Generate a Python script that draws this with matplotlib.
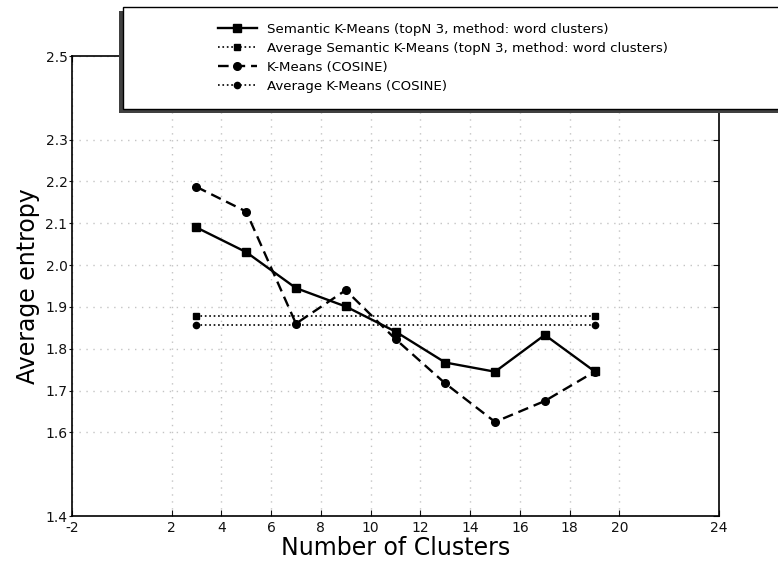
import matplotlib
matplotlib.use('Agg')
import matplotlib.pyplot as plt
from matplotlib.patches import Rectangle

plt.rcParams['axes.unicode_minus'] = False

clusters = [3, 5, 7, 9, 11, 13, 15, 17, 19]
semantic = [2.090, 2.031, 1.945, 1.901, 1.841, 1.767, 1.745, 1.833, 1.746]
kmeans = [2.187, 2.128, 1.860, 1.940, 1.823, 1.717, 1.625, 1.675, 1.745]
avg_x = [3, 19]
avg_semantic = [1.878, 1.878]
avg_kmeans = [1.856, 1.856]

xticks = [-2, 2, 4, 6, 8, 10, 12, 14, 16, 18, 20, 24]
yticks = [1.4, 1.6, 1.7, 1.8, 1.9, 2.0, 2.1, 2.2, 2.3, 2.5]
names = ['Semantic K-Means (topN 3, method: word clusters)',
         'Average Semantic K-Means (topN 3, method: word clusters)',
         'K-Means (COSINE)',
         'Average K-Means (COSINE)']

W, H = 778, 566
fig = plt.figure(figsize=(W / 100, H / 100), dpi=100)
ax = fig.add_axes([72 / W, 50 / H, 647 / W, 460 / H])

l1, = ax.plot(clusters, semantic, color='k', lw=1.7, marker='s', ms=5.5)
l2, = ax.plot(avg_x, avg_semantic, color='k', lw=1.2, ls=':', marker='s', ms=5)
l3, = ax.plot(clusters, kmeans, color='k', lw=1.7, ls=(0, (4.5, 2.5)), marker='o', ms=5.5)
l4, = ax.plot(avg_x, avg_kmeans, color='k', lw=1.2, ls=':', marker='o', ms=4.5)

ax.set_xlim(-2, 24)
ax.set_ylim(1.4, 2.5)
ax.set_xticks(xticks)
ax.set_xticklabels([str(t) for t in xticks])
ax.set_yticks(yticks)
ax.set_yticklabels(['%.1f' % t for t in yticks])
ax.grid(True, ls=(0, (1, 4)), color='#c4c4c4', lw=1)
ax.tick_params(axis='both', labelsize=10, colors='#111111')
ax.tick_params(axis='x', direction='in', length=4, top=True)
ax.tick_params(axis='y', length=2.5, pad=0.8, left=True, right=True)
# left ticks point outward, right ticks point into the axes
for t in ax.yaxis.get_major_ticks():
    t.tick1line.set_marker(0)
    t.tick2line.set_marker(0)
    t.tick2line.set_markersize(4.5)
for s in ax.spines.values():
    s.set_linewidth(1.2)

ax.set_xlabel('Number of Clusters', fontsize=17, labelpad=1)
ax.set_ylabel('Average entropy', fontsize=17, labelpad=3.5)

# legend box with shadow
fig.patches.append(Rectangle((119 / W, 1 - 113 / H), 700 / W, 102 / H,
                             transform=fig.transFigure, facecolor='#404040',
                             edgecolor='none', zorder=2))
fig.patches.append(Rectangle((123 / W, 1 - 109 / H), 700 / W, 102 / H,
                             transform=fig.transFigure, facecolor='white',
                             edgecolor='black', lw=1, zorder=3))
leg = fig.legend([l1, l2, l3, l4], names, loc='upper left',
                 bbox_to_anchor=(218 / W, 1 - 23 / H), frameon=False,
                 fontsize=9.6, handlelength=2.9, handletextpad=0.8,
                 labelspacing=0.45, borderpad=0, borderaxespad=0)
leg.set_zorder(5)

fig.savefig('out.png', dpi=100)
